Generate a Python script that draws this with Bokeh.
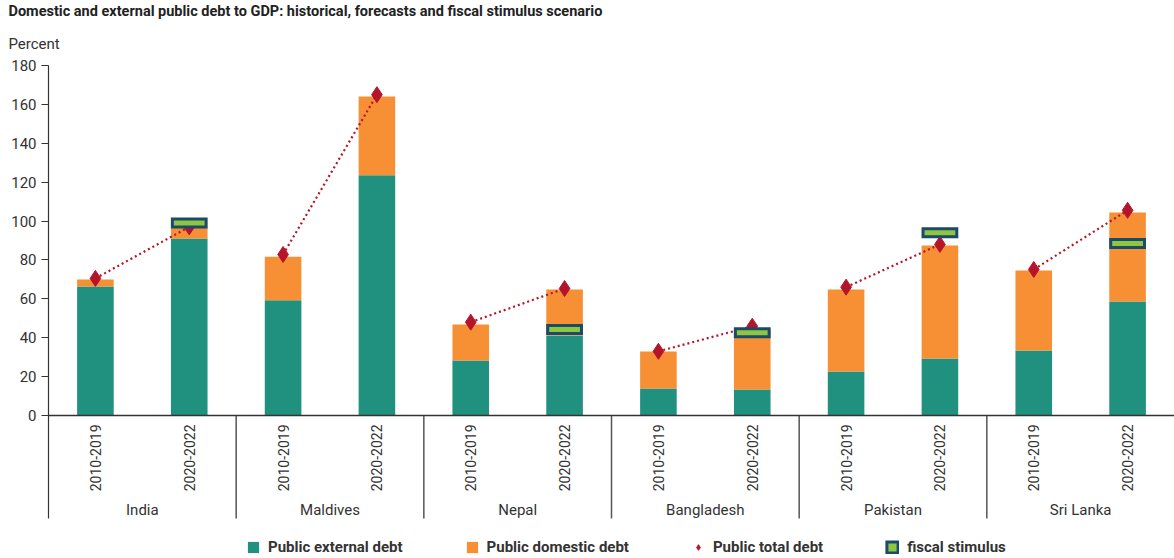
import math
from bokeh.plotting import figure
from bokeh.models import FactorRange, Legend, LegendItem, Title, ColumnDataSource, Span, FixedTicker
from bokeh.core.properties import value
from bokeh.embed import file_html
from bokeh.resources import INLINE

countries = ["India", "Maldives", "Nepal", "Bangladesh", "Pakistan", "Sri Lanka"]
periods = ["2010-2019", "2020-2022"]
external = [66.4, 91.0, 59.3, 123.5, 28.3, 41.2, 13.9, 13.4, 22.6, 29.3, 33.4, 58.6]
domestic = [3.6, 5.5, 22.3, 40.5, 18.5, 23.6, 19.0, 30.8, 42.2, 58.1, 41.2, 45.8]
total = [70.5, 97.0, 82.8, 165.0, 48.0, 65.3, 33.0, 45.9, 66.0, 88.0, 75.1, 105.5]
stimulus = [None, 99.0, None, None, None, 44.2, None, 42.5, None, 94.0, None, 88.5]
y_ticks = [0, 20, 40, 60, 80, 100, 120, 140, 160, 180]

FONT = "Roboto"
TEAL = "#20907f"
ORANGE = "#f79035"
RED = "#b5152b"
GREEN = "#8dc63f"
NAVY = "#1b4a6a"
TXT = "#333333"
SEP = "#555555"

# layout constants (pixels)
PLOT_H = 350          # height of the 0..180 band
BELOW_H = 142         # room below the zero line for category labels and legend
PX = PLOT_H / 180.0   # pixels per percent

factors = [(c, per) for c in countries for per in periods]

src = ColumnDataSource(dict(x=factors, external=external, domestic=domestic))

p = figure(
    x_range=FactorRange(*factors, group_padding=0, factor_padding=0, range_padding=0),
    y_range=(-BELOW_H / PX, 180),
    frame_width=1126, frame_height=PLOT_H + BELOW_H,
    output_backend="svg", toolbar_location=None,
    min_border_left=48, min_border_right=0, min_border_top=0, min_border_bottom=0,
)
p.outline_line_color = None
p.xgrid.grid_line_color = None
p.ygrid.grid_line_color = None
p.xaxis.visible = False

bars = p.vbar_stack(["external", "domestic"], x="x", width=0.39, source=src,
                    color=[TEAL, ORANGE], line_color=None)

for i, c in enumerate(countries):
    xs = [factors[2 * i], factors[2 * i + 1]]
    ys = [total[2 * i], total[2 * i + 1]]
    p.line(xs, ys, line_color=RED, line_width=2.2, line_dash="2 3")

dia = p.scatter(factors, total, marker="diamond", size=16,
                fill_color=RED, line_color=RED)

sx = [f for f, s in zip(factors, stimulus) if s is not None]
sy = [s for s in stimulus if s is not None]
stim = p.rect(sx, sy, width=0.36, height=8, height_units="screen",
              fill_color=GREEN, line_color=NAVY, line_width=3, line_join="miter")

# category axis (drawn below the zero line)
p.add_layout(Span(location=0, dimension="width", line_color=TXT, line_width=1.5))
p.text(x=factors, y=[-9 / PX] * len(factors), text=[f[1] for f in factors],
       angle=math.pi / 2, text_align="right", text_baseline="middle",
       text_font=value(FONT), text_font_size="14px", text_color=TXT)
p.text(x=countries, y=[-94 / PX] * len(countries), text=countries,
       text_align="center", text_baseline="middle",
       text_font=value(FONT), text_font_size="15px", text_color=TXT)
sep_x = [(c, periods[0], -0.5) for c in countries[1:]]
p.segment(x0=sep_x, y0=[0] * len(sep_x), x1=sep_x, y1=[-103 / PX] * len(sep_x),
          line_color=SEP, line_width=1.5)

# y axis
ya = p.yaxis[0]
ya.ticker = FixedTicker(ticks=y_ticks)
ya.bounds = (-103 / PX, 180)
ya.axis_line_color = TXT
ya.axis_line_width = 1.2
ya.major_tick_line_color = TXT
ya.major_tick_in = 0
ya.major_tick_out = 7
ya.minor_tick_line_color = None
ya.major_label_text_font = FONT
ya.major_label_text_font_size = "15px"
ya.major_label_text_color = TXT

legend = Legend(items=[
    LegendItem(label="Public external debt", renderers=[bars[0]]),
    LegendItem(label="Public domestic debt", renderers=[bars[1]]),
    LegendItem(label="Public total debt", renderers=[dia]),
    LegendItem(label="fiscal stimulus", renderers=[stim]),
], orientation="horizontal", location=(198, 1), border_line_color=None,
    background_fill_alpha=0,
    label_text_font=FONT, label_text_font_size="15px", label_text_font_style="bold",
    label_text_color=TXT, spacing=62, glyph_width=14, glyph_height=14,
    label_standoff=8, margin=0, padding=2)
p.add_layout(legend, "center")

p.add_layout(Title(text="Percent", text_font=FONT, text_font_size="15px",
                   text_font_style="normal", text_color=TXT, offset=-40,
                   standoff=26), "above")
p.add_layout(Title(text="Domestic and external public debt to GDP: historical, forecasts and fiscal stimulus scenario",
                   text_font=FONT, text_font_size="14.5px", text_font_style="bold",
                   text_color="#222222", offset=-40, standoff=0), "above")

open("out.html", "w").write(file_html(p, INLINE))
